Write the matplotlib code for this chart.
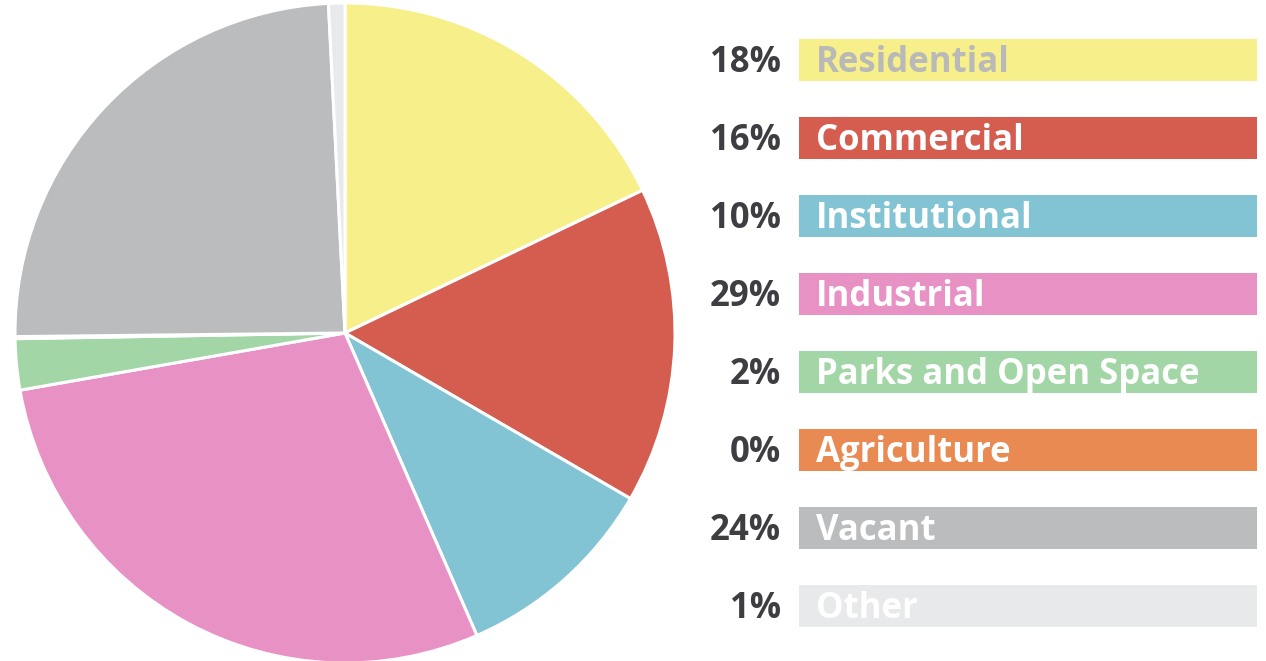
import matplotlib
matplotlib.use("Agg")
import matplotlib.pyplot as plt

# land use shares (clockwise from top)
categories = ["Residential", "Commercial", "Institutional", "Industrial",
              "Parks and Open Space", "Agriculture", "Vacant", "Other"]
shares = [17.9, 15.5, 10.1, 28.8, 2.5, 0.1, 24.4, 0.8]
pct_labels = ["18%", "16%", "10%", "29%", "2%", "0%", "24%", "1%"]
colours = ["#f7ef8a", "#d45d50", "#82c3d4", "#e891c5",
           "#a3d6a6", "#e88a52", "#bbbcbe", "#e8e9ea"]
text_colours = ["#b9b9b9", "white", "white", "white",
                "white", "white", "white", "white"]

W, H = 1266, 661
fig = plt.figure(figsize=(W / 100, H / 100), dpi=100)

# pie: centre (345, 333) px from top-left, radius 330 px
cx, cy, r = 345, 333, 330
ax = fig.add_axes([(cx - r) / W, (H - cy - r) / H, 2 * r / W, 2 * r / H])
wedges, _ = ax.pie(shares, colors=colours, startangle=90, counterclock=False,
                   radius=1, wedgeprops=dict(edgecolor="white", linewidth=2.2))
for w in wedges:
    w.set_clip_on(False)
ax.set_xlim(-1, 1)
ax.set_ylim(-1, 1)
ax.set_aspect("equal")
ax.axis("off")

# legend bars on the right
x0, x1 = 799, 1257
row0, step = 60, 78
lax = fig.add_axes([x0 / W, 0, (x1 - x0) / W, 1])
lax.barh(range(len(categories)), [1] * len(categories), height=42 / step,
         color=colours, left=0)
lax.set_xlim(0, 1)
lax.set_ylim((H - row0) / step, -row0 / step)
lax.axis("off")

for i, (cat, pct) in enumerate(zip(categories, pct_labels)):
    lax.annotate(pct, (0, i), xytext=(-18, -3), textcoords="offset pixels",
                 ha="right", va="center", fontsize=25, fontweight="bold",
                 family="Open Sans", color="#3d3d42", annotation_clip=False)
    lax.annotate(cat, (0, i), xytext=(17, -3), textcoords="offset pixels",
                 ha="left", va="center", fontsize=25, fontweight="bold",
                 family="Open Sans", color=text_colours[i])

fig.savefig("out.png", dpi=100)
